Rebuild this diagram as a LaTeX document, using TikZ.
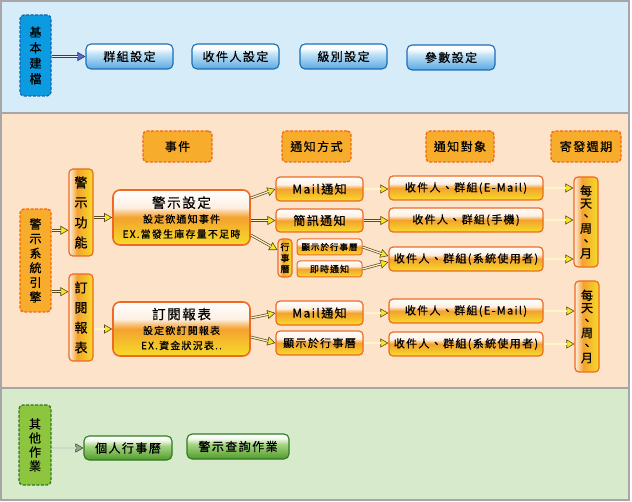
\documentclass[tikz,border=0pt]{standalone}
\usepackage{fontspec}
\setmainfont{Noto Sans CJK TC}[LetterSpace=12,FakeBold=0.6]
\usetikzlibrary{arrows.meta,calc}
\definecolor{bandB}{HTML}{D6ECF9}
\definecolor{bandO}{HTML}{FCE3CA}
\definecolor{bandG}{HTML}{D8EACC}
\definecolor{bandline}{HTML}{A6A6A6}
\definecolor{bdark}{HTML}{1B6DB5}
\definecolor{bfillD}{HTML}{5AA8E0}
\definecolor{bfillL}{HTML}{C0E2F8}
\definecolor{kfill}{HTML}{0C9BE0}
\definecolor{kline}{HTML}{1565B0}
\definecolor{hfill}{HTML}{F7AC2C}
\definecolor{hline}{HTML}{F26A12}
\definecolor{oline}{HTML}{EE6A22}
\definecolor{oor}{HTML}{F4A22E}
\definecolor{oyel}{HTML}{F6DC2A}
\definecolor{ocre}{HTML}{FDEFE2}
\definecolor{gfillD}{HTML}{4F9B2A}
\definecolor{gfillL}{HTML}{A8D585}
\definecolor{gline}{HTML}{2F7A1F}
\definecolor{gk}{HTML}{8DC53E}
\definecolor{odark}{HTML}{5A4A20}
\definecolor{oinner}{HTML}{FFF6C8}
\definecolor{ohead}{HTML}{F8E81C}
\definecolor{bldark}{HTML}{283C8C}
\definecolor{blinner}{HTML}{E8EEFF}
\definecolor{blhead}{HTML}{5A6CC0}
\definecolor{grdark}{HTML}{3A5A30}
\definecolor{grinner}{HTML}{D0D8C8}
\definecolor{grhead}{HTML}{90A888}
\pgfdeclareverticalshading{glossO}{100bp}{color(0bp)=(oyel); color(25bp)=(oyel); color(50bp)=(oor); color(55bp)=(oor!50!ocre); color(59bp)=(ocre); color(75bp)=(white); color(100bp)=(white)}
\pgfdeclareverticalshading{glossB}{100bp}{color(0bp)=(bfillD); color(25bp)=(bfillD); color(55bp)=(bfillL); color(60bp)=(bfillL!60!white); color(66bp)=(white!90!bfillL); color(75bp)=(white); color(100bp)=(white)}
\pgfdeclareverticalshading{glossG}{100bp}{color(0bp)=(gfillD); color(25bp)=(gfillD); color(55bp)=(gfillL); color(60bp)=(gfillL!60!white); color(66bp)=(white!85!gfillL); color(75bp)=(white); color(100bp)=(white)}
\pgfdeclarehorizontalshading{vertO}{100bp}{color(0bp)=(white); color(25bp)=(ocre); color(32bp)=(ocre!60!oor); color(42bp)=(oor); color(75bp)=(oyel); color(100bp)=(oyel)}
\newcommand\mkbox[7]{%
 \pgfmathsetmacro\bxw{#5-#3}%
 \pgfmathsetmacro\bxh{#6-#4}%
 \pgfmathsetmacro\bxx{(#3+#5)/2}%
 \pgfmathsetmacro\bxy{(#4+#6)/2}%
 \node[#1, minimum width=\bxw pt, minimum height=\bxh pt] (#2) at (\bxx,\bxy) {#7};}
\newcommand\conn[3]{%
 \draw[#1tip] #2 -- #3;
 \draw[#1out] #2 -- #3;
 \draw[#1in] #2 -- #3;}
\begin{document}
\begin{tikzpicture}[x=1pt,y=-1pt,
 every node/.style={inner sep=0pt, align=center, text=black},
 kstyle/.style={draw=kline, dash pattern=on 3pt off 1.5pt, line width=1.3pt, fill=kfill, rounded corners=4pt, font=\fontsize{12}{15.5}\selectfont},
 bbtn/.style={shade, shading=glossB, draw=bdark, line width=1.1pt, rounded corners=5pt, font=\fontsize{12}{14}\selectfont},
 hdr/.style={draw=hline, dash pattern=on 3pt off 1.5pt, line width=1.4pt, fill=hfill, rounded corners=4pt, font=\fontsize{12}{14}\selectfont},
 obig/.style={shade, shading=glossO, draw=oline, line width=1.6pt, rounded corners=7pt, font=\fontsize{10}{15}\selectfont},
 obtn/.style={shade, shading=glossO, draw=oline, line width=1.2pt, rounded corners=4pt, font=\fontsize{12}{14}\selectfont},
 otgt/.style={shade, shading=glossO, draw=oline, line width=1.2pt, rounded corners=4pt, font=\fontsize{11}{14}\selectfont},
 osml/.style={shade, shading=glossO, draw=oline, line width=1pt, rounded corners=3pt, font=\fontsize{8.5}{11}\selectfont},
 overt/.style={shade, shading=vertO, draw=oline, line width=1.2pt, rounded corners=4pt, font=\fontsize{13}{20}\selectfont},
 gkst/.style={draw=gline, dash pattern=on 3pt off 1.5pt, line width=1.3pt, fill=gk, rounded corners=4pt, font=\fontsize{12}{14}\selectfont},
 gbtn/.style={shade, shading=glossG, draw=gline, line width=1.1pt, rounded corners=5pt, font=\fontsize{12}{14}\selectfont},
 otip/.style={draw=odark, line width=0.6pt, -{Triangle[length=8pt,width=9pt,fill=ohead]}},
 oout/.style={draw=odark, line width=2.6pt, shorten >=7pt},
 oin/.style={draw=oinner, line width=1.2pt, shorten >=7pt},
 btip/.style={draw=bldark, line width=0.6pt, -{Triangle[length=8pt,width=9pt,fill=blhead]}},
 bout/.style={draw=bldark, line width=2.6pt, shorten >=7pt},
 bin/.style={draw=blinner, line width=1.2pt, shorten >=7pt},
 gtip/.style={draw=grdark, line width=0.6pt, -{Triangle[length=8pt,width=9pt,fill=grhead]}},
 gout/.style={draw=grdark, line width=2.6pt, shorten >=7pt},
 gin/.style={draw=grinner, line width=1.2pt, shorten >=7pt}]
\useasboundingbox (0,0) rectangle (632,502);
\fill[white] (0,0) rectangle (632,502);
\fill[bandB] (1,1) rectangle (629,113);
\fill[bandO] (1,113) rectangle (629,388);
\fill[bandG] (1,388) rectangle (629,500);
\draw[bandline, line width=1.5pt] (1,1) rectangle (629,500);
\draw[bandline, line width=1.5pt] (1,113) -- (629,113) (1,388) -- (629,388);
% band 1
\mkbox{kstyle}{kb}{20}{15}{51}{96}{基\\本\\建\\檔}
\mkbox{bbtn}{g1}{86}{44}{173}{69}{群組設定}
\mkbox{bbtn}{g2}{192}{44}{279}{69}{收件人設定}
\mkbox{bbtn}{g3}{300}{44}{387}{69}{級別設定}
\mkbox{bbtn}{g4}{407}{45}{495}{70}{參數設定}
\conn{b}{(kb.east |- g1.west)}{(g1.west)}
% band 2 headers
\mkbox{hdr}{h1}{143}{131}{212}{162}{事件}
\mkbox{hdr}{h2}{282}{131}{351}{162}{通知方式}
\mkbox{hdr}{h3}{426}{131}{494}{162}{通知對象}
\mkbox{hdr}{h4}{551}{131}{621}{162}{寄發週期}
% left column
\mkbox{hdr, font=\fontsize{12}{14.6}\selectfont}{eng}{20}{209}{51}{312}{警\\示\\系\\統\\引\\擎}
\mkbox{overt}{af}{69}{169}{93}{256}{警\\示\\功\\能}
\mkbox{overt}{sv}{69}{274}{93}{361}{訂\\閱\\報\\表}
\mkbox{obig}{ws}{113}{190}{250}{245}{{\fontsize{13.5}{15}\selectfont 警示設定}\\設定欲通知事件\\EX.當發生庫存量不足時}
\mkbox{obig}{sr}{113}{302}{250}{356}{{\fontsize{13.5}{15}\selectfont 訂閱報表}\\設定欲訂閱報表\\EX.資金狀況表..}
\conn{o}{([yshift=-22pt]eng.north east)}{([yshift=-22pt]eng.north east -| af.west)}
\conn{o}{([yshift=21pt]eng.south east)}{([yshift=21pt]eng.south east -| sv.west)}
\conn{o}{(af.east |- ws.west)}{(ws.west)}
\conn{o}{(sv.east |- sr.west)}{(sr.west)}
% methods
\mkbox{obtn}{m1}{276}{177}{363}{201}{Mail通知}
\mkbox{obtn}{sms}{276}{209}{363}{232}{簡訊通知}
\mkbox{overt, font=\fontsize{9}{11}\selectfont}{cal}{278}{239}{292}{277}{行\\事\\曆}
\mkbox{osml}{cs1}{297}{239}{362}{255}{顯示於行事曆}
\mkbox{osml, font=\fontsize{9}{11}\selectfont}{now}{297}{261}{362}{277}{即時通知}
\mkbox{obtn}{m2}{276}{301}{363}{325}{Mail通知}
\mkbox{obtn, font=\fontsize{11}{14}\selectfont}{cs2}{276}{331}{363}{355}{顯示於行事曆}
\conn{o}{([yshift=19.5pt]ws.east)}{(m1.west)}
\conn{o}{(ws.east |- sms.west)}{(sms.west)}
\conn{o}{([yshift=-17.5pt]ws.east)}{([yshift=8pt]cal.west)}
\conn{o}{([yshift=11pt]sr.east)}{(m2.west)}
\conn{o}{([yshift=-8pt]sr.east)}{(cs2.west)}
% targets
\mkbox{otgt}{t1}{389}{176}{543}{200}{收件人、群組(E-Mail)}
\mkbox{otgt}{t2}{389}{208}{543}{232}{收件人、群組(手機)}
\mkbox{otgt}{t3}{389}{247}{543}{271}{收件人、群組(系統使用者)}
\mkbox{otgt}{t4}{389}{299}{543}{323}{收件人、群組(E-Mail)}
\mkbox{otgt}{t5}{389}{332}{543}{356}{收件人、群組(系統使用者)}
\conn{o}{(m1.east)}{(m1.east -| t1.west)}
\conn{o}{(sms.east)}{(sms.east -| t2.west)}
\conn{o}{(cs1.east)}{([yshift=3pt]t3.west)}
\conn{o}{(now.east)}{([yshift=-3pt]t3.west)}
\conn{o}{(m2.east)}{(m2.east -| t4.west)}
\conn{o}{(cs2.east)}{(cs2.east -| t5.west)}
% periods
\mkbox{overt, font=\fontsize{12}{12.5}\selectfont}{p1}{574}{177}{598}{267}{每\\天\\、\\周\\、\\月}
\mkbox{overt, font=\fontsize{12}{12.5}\selectfont}{p2}{575}{281}{599}{372}{每\\天\\、\\周\\、\\月}
\conn{o}{(t1.east)}{(t1.east -| p1.west)}
\conn{o}{(t2.east)}{(t2.east -| p1.west)}
\conn{o}{(t3.east)}{(t3.east -| p1.west)}
\conn{o}{(t4.east)}{(t4.east -| p2.west)}
\conn{o}{(t5.east)}{(t5.east -| p2.west)}
% band 3
\mkbox{gkst}{ok}{19}{405}{51}{485}{其\\他\\作\\業}
\mkbox{gbtn}{pc}{84}{436}{172}{460}{個人行事曆}
\mkbox{gbtn}{aq}{187}{434}{289}{459}{警示查詢作業}
\conn{g}{(ok.east |- pc.west)}{(pc.west)}
\end{tikzpicture}
\end{document}
